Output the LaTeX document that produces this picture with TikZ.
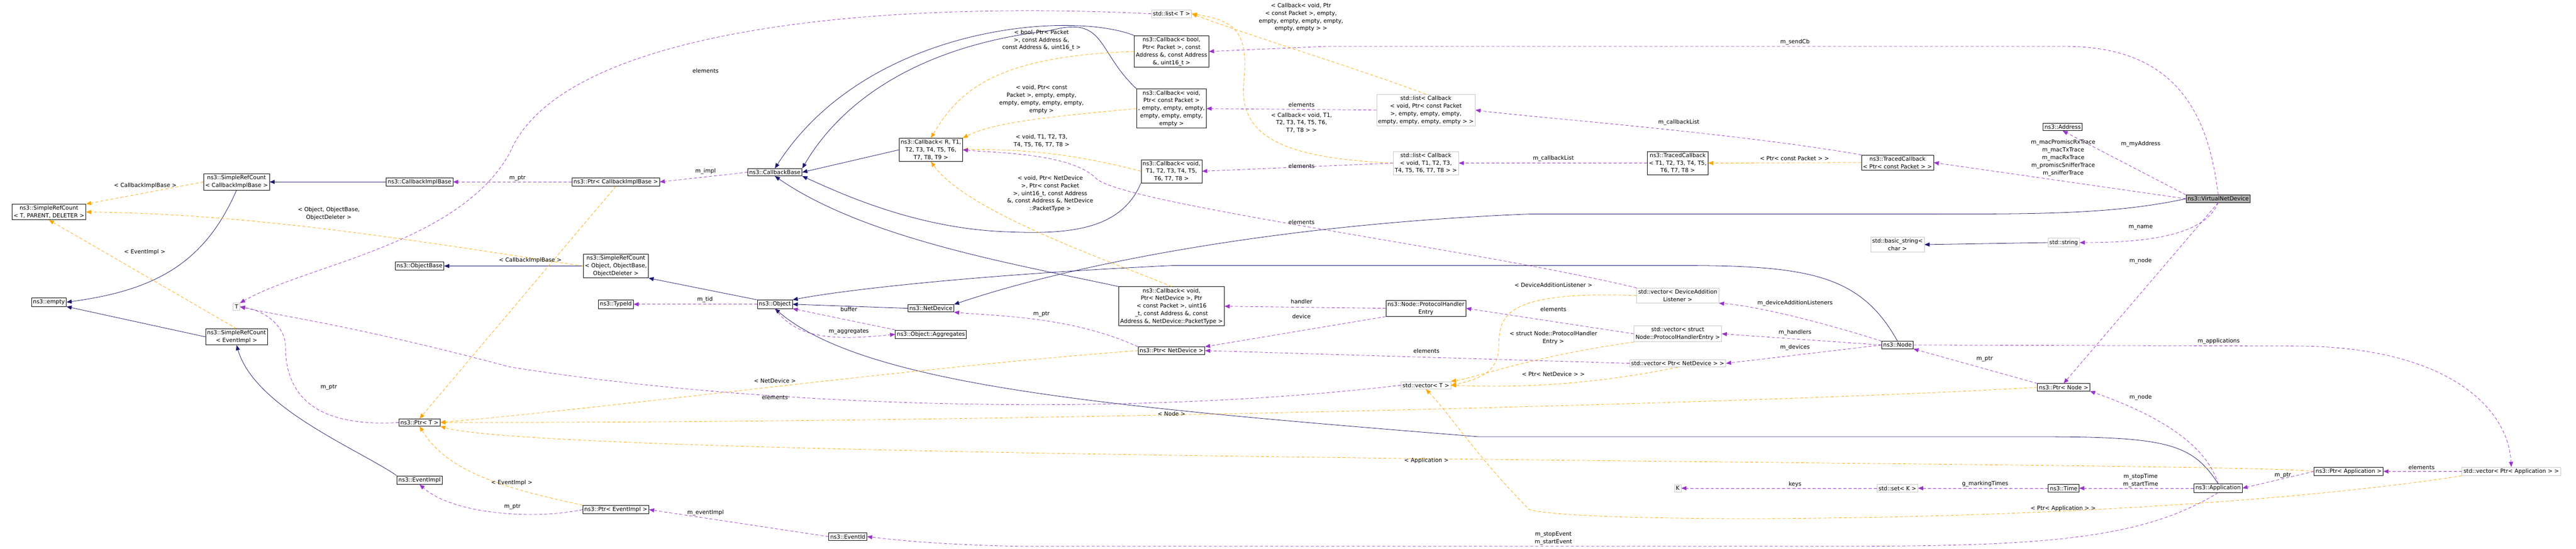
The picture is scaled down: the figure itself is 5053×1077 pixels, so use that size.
\documentclass[tikz,border=0pt]{standalone}
\usepackage{fontspec}
\setmainfont{DejaVu Sans}
\usetikzlibrary{arrows.meta, positioning}

\tikzset{
    cls/.style={draw=black, thick, fill=white, align=center, inner sep=3pt, font=\fontsize{11}{15}\selectfont},
    ext/.style={cls, draw=gray!45},
    mainbox/.style={cls, fill=gray!60},
    lbl/.style={align=center, font=\fontsize{11}{15}\selectfont, inner sep=1pt},
    inh/.style={draw={rgb,255:red,25;green,25;blue,112}, thick, -{Triangle[length=10pt,width=8pt]}},
    use/.style={draw={rgb,255:red,154;green,50;blue,205}, thick, dashed, dash pattern=on 6pt off 4pt, -{Triangle[length=10pt,width=8pt]}},
    tmpl/.style={draw={rgb,255:red,255;green,165;blue,0}, thick, dash pattern=on 6pt off 4pt, -{Triangle[length=10pt,width=8pt]}}
}

\begin{document}
\begin{tikzpicture}[x=1pt, y=-1pt]
\useasboundingbox (0,0) rectangle (5053,1077);

% class nodes
\node[cls] (srct) at (96,416) {ns3::SimpleRefCount\\< T, PARENT, DELETER >};
\node[cls] (srccib) at (464,357) {ns3::SimpleRefCount\\< CallbackImplBase >};
\node[cls] (cib) at (823,357) {ns3::CallbackImplBase};
\node[cls] (empty) at (96,593) {ns3::empty};
\node[ext] (tt) at (464,602) {T};
\node[cls] (objbase) at (823,522) {ns3::ObjectBase};
\node[cls] (srcev) at (464,661) {ns3::SimpleRefCount\\< EventImpl >};
\node[cls] (ptrt) at (823,829) {ns3::Ptr< T >};
\node[cls] (evimpl) at (823,942) {ns3::EventImpl};
\node[cls] (ptrcib) at (1208,357) {ns3::Ptr< CallbackImplBase >};
\node[cls] (cbbase) at (1520,338) {ns3::CallbackBase};
\node[cls] (cbr) at (1826,294) {ns3::Callback< R, T1,\\T2, T3, T4, T5, T6,\\T7, T8, T9 >};
\node[cls] (srcobj) at (1208,522) {ns3::SimpleRefCount\\< Object, ObjectBase,\\ObjectDeleter >};
\node[cls] (object) at (1520,597) {ns3::Object};
\node[cls] (typeid) at (1208,597) {ns3::TypeId};
\node[cls] (netdev) at (1826,605) {ns3::NetDevice};
\node[cls] (aggr) at (1826,656) {ns3::Object::Aggregates};
\node[cls] (ptrev) at (1208,1000) {ns3::Ptr< EventImpl >};
\node[cls] (evid) at (1663,1053) {ns3::EventId};
\node[ext] (listt) at (2298,27) {std::list< T >};
\node[cls] (cbbool) at (2298,101) {ns3::Callback< bool,\\Ptr< Packet >, const\\Address \&, const Address\\\&, uint16\_t >};
\node[cls] (cbpkt) at (2298,213) {ns3::Callback< void,\\Ptr< const Packet >\\, empty, empty, empty,\\empty, empty, empty,\\empty >};
\node[cls] (cbvt) at (2298,336) {ns3::Callback< void,\\T1, T2, T3, T4, T5,\\T6, T7, T8 >};
\node[cls] (cbnd) at (2298,601) {ns3::Callback< void,\\Ptr< NetDevice >, Ptr\\< const Packet >, uint16\\\_t, const Address \&, const\\Address \&, NetDevice::PacketType >};
\node[ext] (listpkt) at (2797,216) {std::list< Callback\\< void, Ptr< const Packet\\>, empty, empty, empty,\\empty, empty, empty, empty > >};
\node[ext] (listvt) at (2797,320) {std::list< Callback\\< void, T1, T2, T3,\\T4, T5, T6, T7, T8 > >};
\node[cls] (phe) at (2797,605) {ns3::Node::ProtocolHandler\\Entry};
\node[cls] (ptrnd) at (2298,688) {ns3::Ptr< NetDevice >};
\node[ext] (vect) at (2797,756) {std::vector< T >};
\node[ext] (vecdal) at (3291,580) {std::vector< DeviceAddition\\Listener >};
\node[ext] (vecphe) at (3291,655) {std::vector< struct\\Node::ProtocolHandlerEntry >};
\node[ext] (vecnd) at (3291,713) {std::vector< Ptr< NetDevice > >};
\node[cls] (tcbt) at (3291,320) {ns3::TracedCallback\\< T1, T2, T3, T4, T5,\\T6, T7, T8 >};
\node[cls] (tcbpkt) at (3722,319) {ns3::TracedCallback\\< Ptr< const Packet > >};
\node[cls] (addr) at (4046,249) {ns3::Address};
\node[mainbox] (vnd) at (4351,390) {ns3::VirtualNetDevice};
\node[ext] (bstr) at (3722,480) {std::basic\_string<\\char >};
\node[ext] (str) at (4048,476) {std::string};
\node[cls] (node) at (3722,677) {ns3::Node};
\node[cls] (ptrnode) at (4048,760) {ns3::Ptr< Node >};
\node[cls] (ptrapp) at (4607,925) {ns3::Ptr< Application >};
\node[ext] (vecapp) at (4926,925) {std::vector< Ptr< Application > >};
\node[cls] (app) at (4351,958) {ns3::Application};
\node[cls] (time) at (4048,958) {ns3::Time};
\node[ext] (setk) at (3722,958) {std::set< K >};
\node[ext] (kk) at (3291,958) {K};

% inheritance
\draw[inh] (srccib.south) .. controls (400,520) and (300,570) .. (empty.east);
\draw[inh] (srcev.west) -- (empty.south east);
\draw[inh] (cib) -- (srccib);
\draw[inh] (evimpl.north west) .. controls (700,880) and (500,800) .. (srcev.south);
\draw[inh] (srcobj.west) -- (objbase.east);
\draw[inh] (object.north west) -- (srcobj.south east);
\draw[inh] (netdev.west) -- (object.east);
\draw[inh] (cbr.west) -- (cbbase.east);
\draw[inh] (cbbool.north west) .. controls (2100,20) and (1700,50) .. (cbbase.north);
\draw[inh] (cbpkt.north west) .. controls (2150,100) and (2170,30) .. (2060,60) .. controls (1800,90) and (1650,200) .. (cbbase.north east);
\draw[inh] (cbvt.south west) .. controls (2200,450) and (2100,460) .. (1980,455) .. controls (1800,450) and (1650,380) .. (cbbase.south east);
\draw[inh] (cbnd.north west) .. controls (2000,520) and (1700,470) .. (cbbase.south);
\draw[inh] (node.north) .. controls (3650,540) and (3550,521) .. (3300,521) -- (2300,521) .. controls (1900,540) and (1650,570) .. (object.north east);
\draw[inh] (app.north) .. controls (4300,870) and (4250,857) .. (4000,857) -- (2900,857) .. controls (2200,800) and (1700,760) .. (object.south);
\draw[inh] (vnd.west) .. controls (4150,420) and (4000,420) .. (3800,420) -- (3000,420) .. controls (2500,440) and (2100,520) .. (netdev.north east);
\draw[inh] (str.west) -- (bstr.east);

% template instances
\draw[tmpl] (srccib.west) -- (srct.north east);
\draw[tmpl] (srcobj.west) .. controls (800,470) and (500,420) .. (srct.east);
\draw[tmpl] (srcev.north) -- (srct.south);
\draw[tmpl] (ptrcib.south) -- (ptrt.north);
\draw[tmpl] (ptrev.north west) .. controls (1000,960) and (880,930) .. (ptrt.south);
\draw[tmpl] (ptrnd.west) .. controls (1800,720) and (1200,800) .. (ptrt.east);
\draw[tmpl] (ptrnode.west) .. controls (3500,790) and (2000,830) .. (ptrt.east);
\draw[tmpl] (ptrapp.west) .. controls (4400,905) and (1100,905) .. (ptrt.south east);
\draw[tmpl] (cbbool.west) .. controls (1950,110) and (1880,180) .. (cbr.north);
\draw[tmpl] (cbpkt.west) .. controls (2050,230) and (1950,240) .. (cbr.north east);
\draw[tmpl] (cbvt.west) .. controls (2100,300) and (2000,292) .. (cbr.east);
\draw[tmpl] (cbnd.north) .. controls (2200,520) and (1900,420) .. (cbr.south);
\draw[tmpl] (listpkt.north) .. controls (2650,130) and (2450,70) .. (listt.east);
\draw[tmpl] (listvt.west) .. controls (2500,310) and (2430,260) .. (2440,160) .. controls (2450,60) and (2420,40) .. (listt.east);
\draw[tmpl] (tcbpkt.west) -- (tcbt.east);
\draw[tmpl] (vecdal.west) .. controls (2950,570) and (2940,620) .. (2940,680) .. controls (2940,730) and (2900,745) .. (vect.east);
\draw[tmpl] (vecphe.south west) .. controls (3000,700) and (2900,740) .. (vect.north east);
\draw[tmpl] (vecnd.south) .. controls (3100,760) and (2950,760) .. (vect.east);
\draw[tmpl] (vecapp.south west) .. controls (4200,1030) and (3100,1030) .. (3000,1000) .. controls (2900,900) and (2850,820) .. (vect.south);

% members
\draw[use] (ptrcib.west) -- (cib.east);
\draw[use] (cbbase.west) -- (ptrcib.east);
\draw[use] (listt.west) .. controls (1700,0) and (1100,60) .. (1000,300) .. controls (900,480) and (600,520) .. (tt.north east);
\draw[use] (vect.west) .. controls (2200,820) and (1500,800) .. (1000,720) .. controls (700,640) and (550,620) .. (tt.east);
\draw[use] (ptrt.west) .. controls (600,840) and (560,760) .. (560,680) .. controls (560,640) and (520,610) .. (tt.east);
\draw[use] (object.west) -- (typeid.east);
\draw[use] (aggr.north west) -- (object.south east);
\draw[use] (object.south) .. controls (1560,660) and (1620,670) .. (aggr.west);
\draw[use] (ptrev.west) .. controls (1050,1020) and (890,1010) .. (evimpl.south);
\draw[use] (evid.west) -- (ptrev.east);
\draw[use] (app.south) .. controls (4200,1060) and (4000,1072) .. (3600,1072) -- (2000,1072) .. controls (1900,1070) and (1800,1065) .. (evid.east);
\draw[use] (ptrnd.north west) .. controls (2100,620) and (1950,620) .. (netdev.south east);
\draw[use] (phe.south west) -- (ptrnd.north east);
\draw[use] (phe.west) -- (cbnd.east);
\draw[use] (vecnd.west) -- (ptrnd.east);
\draw[use] (vecphe.west) -- (phe.east);
\draw[use] (listpkt.west) -- (cbpkt.east);
\draw[use] (listvt.west) -- (cbvt.east);
\draw[use] (vecdal.north west) .. controls (2900,490) and (2200,400) .. (2150,350) .. controls (2100,300) and (1950,300) .. (cbr.east);
\draw[use] (tcbpkt.north west) .. controls (3400,260) and (3000,230) .. (listpkt.east);
\draw[use] (tcbt.west) -- (listvt.east);
\draw[use] (vnd.north) .. controls (4330,200) and (4250,91) .. (4050,91) -- (2600,91) -- (cbbool.east);
\draw[use] (vnd.west) -- (tcbpkt.east);
\draw[use] (vnd.north west) -- (addr.south);
\draw[use] (vnd.south) .. controls (4330,450) and (4250,476) .. (str.east);
\draw[use] (vnd.south) -- (ptrnode.north);
\draw[use] (ptrnode.north west) -- (node.south east);
\draw[use] (app.north) .. controls (4330,880) and (4250,820) .. (ptrnode.south east);
\draw[use] (node.north west) .. controls (3600,640) and (3450,600) .. (vecdal.south east);
\draw[use] (node.west) -- (vecphe.east);
\draw[use] (node.west) -- (vecnd.east);
\draw[use] (node.east) -- (4500,679) .. controls (4800,679) and (4920,800) .. (vecapp.north);
\draw[use] (vecapp.west) -- (ptrapp.east);
\draw[use] (ptrapp.west) -- (app.east);
\draw[use] (app.west) -- (time.east);
\draw[use] (time.west) -- (setk.east);
\draw[use] (setk.west) -- (kk.east);

% labels
\node[lbl] (l1) at (285,364) {< CallbackImplBase >};
\node[lbl] (l2) at (645,419) {< Object, ObjectBase,\\ObjectDeleter >};
\node[lbl] (l3) at (284,495) {< EventImpl >};
\node[lbl] (l4) at (645,760) {m\_ptr};
\node[lbl] (l5) at (1015,350) {m\_ptr};
\node[lbl] (l6) at (1384,336) {m\_impl};
\node[lbl] (l7) at (1384,139) {elements};
\node[lbl] (l8) at (1040,511) {< CallbackImplBase >};
\node[lbl] (l9) at (1383,588) {m\_tid};
\node[lbl] (l10) at (1665,607) {buffer};
\node[lbl] (l11) at (1665,651) {m\_aggregates};
\node[lbl] (l12) at (1520,747) {< NetDevice >};
\node[lbl] (l13) at (1520,780) {elements};
\node[lbl] (l14) at (1004,947) {< EventImpl >};
\node[lbl] (l15) at (1005,994) {m\_ptr};
\node[lbl] (l16) at (1384,1006) {m\_eventImpl};
\node[lbl] (l17) at (2043,79) {< bool, Ptr< Packet\\>, const Address \&,\\const Address \&, uint16\_t >};
\node[lbl] (l18) at (2043,195) {< void, Ptr< const\\Packet >, empty, empty,\\empty, empty, empty, empty,\\empty >};
\node[lbl] (l19) at (2043,276) {< void, T1, T2, T3,\\T4, T5, T6, T7, T8 >};
\node[lbl] (l20) at (2060,380) {< void, Ptr< NetDevice\\>, Ptr< const Packet\\>, uint16\_t, const Address\\\&, const Address \&, NetDevice\\::PacketType >};
\node[lbl] (l21) at (2552,34) {< Callback< void, Ptr\\< const Packet >, empty,\\empty, empty, empty, empty,\\empty, empty > >};
\node[lbl] (l22) at (2553,206) {elements};
\node[lbl] (l23) at (2553,241) {< Callback< void, T1,\\T2, T3, T4, T5, T6,\\T7, T8 > >};
\node[lbl] (l24) at (2553,326) {elements};
\node[lbl] (l25) at (2553,436) {elements};
\node[lbl] (l26) at (2553,592) {handler};
\node[lbl] (l27) at (2553,621) {device};
\node[lbl] (l28) at (2043,616) {m\_ptr};
\node[lbl] (l29) at (2798,689) {elements};
\node[lbl] (l30) at (2298,812) {< Node >};
\node[lbl] (l31) at (2798,904) {< Application >};
\node[lbl] (l32) at (3047,559) {< DeviceAdditionListener >};
\node[lbl] (l33) at (3047,607) {elements};
\node[lbl] (l34) at (3047,663) {< struct Node::ProtocolHandler\\Entry >};
\node[lbl] (l35) at (3047,734) {< Ptr< NetDevice > >};
\node[lbl] (l36) at (3521,83) {m\_sendCb};
\node[lbl] (l37) at (3293,240) {m\_callbackList};
\node[lbl] (l38) at (3047,311) {m\_callbackList};
\node[lbl] (l39) at (3520,311) {< Ptr< const Packet > >};
\node[lbl] (l40) at (4047,310) {m\_macPromiscRxTrace\\m\_macTxTrace\\m\_macRxTrace\\m\_promiscSnifferTrace\\m\_snifferTrace};
\node[lbl] (l41) at (4199,283) {m\_myAddress};
\node[lbl] (l42) at (4199,446) {m\_name};
\node[lbl] (l43) at (4199,512) {m\_node};
\node[lbl] (l44) at (3521,595) {m\_deviceAdditionListeners};
\node[lbl] (l45) at (3521,652) {m\_handlers};
\node[lbl] (l46) at (3521,682) {m\_devices};
\node[lbl] (l47) at (4352,670) {m\_applications};
\node[lbl] (l48) at (3893,704) {m\_ptr};
\node[lbl] (l49) at (4199,780) {m\_node};
\node[lbl] (l50) at (4750,917) {elements};
\node[lbl] (l51) at (4478,933) {m\_ptr};
\node[lbl] (l52) at (4199,943) {m\_stopTime\\m\_startTime};
\node[lbl] (l53) at (3894,950) {g\_markingTimes};
\node[lbl] (l54) at (3521,950) {keys};
\node[lbl] (l55) at (4047,998) {< Ptr< Application > >};
\node[lbl] (l56) at (3047,1056) {m\_stopEvent\\m\_startEvent};
\end{tikzpicture}
\end{document}
